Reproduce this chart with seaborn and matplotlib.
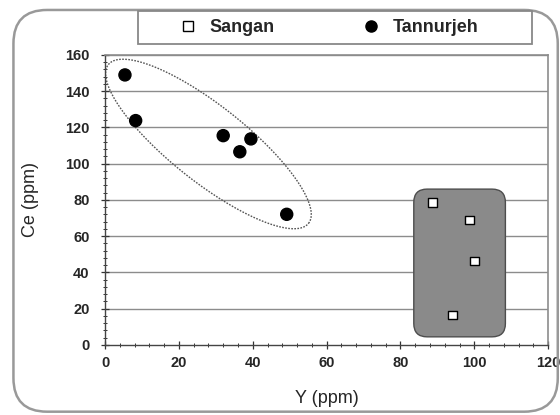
import numpy as np
import pandas as pd
import matplotlib
matplotlib.use("Agg")
import matplotlib.pyplot as plt
from matplotlib.patches import FancyBboxPatch, Rectangle
from matplotlib.ticker import MultipleLocator
from matplotlib.lines import Line2D
import seaborn as sns

# ---------------------------------------------------------------------------
# DATA
# ---------------------------------------------------------------------------
sangan_y = [88.7, 98.6, 100.0, 94.1]
sangan_ce = [78.5, 69.0, 46.3, 16.6]

tannurjeh_y = [5.4, 8.3, 32.0, 39.5, 36.5, 49.2]
tannurjeh_ce = [149.0, 123.8, 115.5, 113.7, 106.6, 72.1]

x_ticks = [0, 20, 40, 60, 80, 100, 120]
y_ticks = [0, 20, 40, 60, 80, 100, 120, 140, 160]

# Tannurjeh field (dashed ellipse): centre and two half-axis vectors
ell_center = (28.0, 110.9)
ell_major = (27.1, -43.8)
ell_minor = (6.4, 16.4)

# Sangan field (grey rounded box)
box_x = (83.6, 108.4)
box_y = (4.5, 86.0)

df = pd.DataFrame({
    "Y": sangan_y + tannurjeh_y,
    "Ce": sangan_ce + tannurjeh_ce,
    "group": ["Sangan"] * len(sangan_y) + ["Tannurjeh"] * len(tannurjeh_y),
})

# ---------------------------------------------------------------------------
# PLOT
# ---------------------------------------------------------------------------
sns.set_style("white")
plt.rcParams["font.family"] = ["Liberation Sans", "DejaVu Sans"]

fig = plt.figure(figsize=(5.6, 4.15), dpi=100)
ax = fig.add_axes([0.1875, 0.1687, 0.7915, 0.6988])

# outer rounded frame
fig.patches.append(FancyBboxPatch(
    (0.024, 0.008), 0.972, 0.968, transform=fig.transFigure,
    boxstyle="round,pad=0,rounding_size=0.06", mutation_aspect=560 / 415,
    facecolor="none", edgecolor="#999999", lw=1.8))

# horizontal grid
for yv in y_ticks[1:]:
    ax.axhline(yv, color="#8c8c8c", lw=1.0, zorder=0)

# Sangan field box
ax.add_patch(FancyBboxPatch(
    (box_x[0], box_y[0]), box_x[1] - box_x[0], box_y[1] - box_y[0],
    boxstyle="round,pad=0,rounding_size=3.6", mutation_aspect=3.7 / 1.8125,
    facecolor="#8a8a8a", edgecolor="#4d4d4d", lw=1.0, zorder=1))

# Tannurjeh field ellipse
t = np.linspace(0, 2 * np.pi, 300)
ex = ell_center[0] + ell_major[0] * np.cos(t) + ell_minor[0] * np.sin(t)
ey = ell_center[1] + ell_major[1] * np.cos(t) + ell_minor[1] * np.sin(t)
ax.plot(ex, ey, color="#555555", lw=1.0, ls=(0, (1.2, 1.0)), zorder=1)

sns.scatterplot(data=df, x="Y", y="Ce", hue="group", style="group",
                markers={"Sangan": "s", "Tannurjeh": "o"},
                palette={"Sangan": "white", "Tannurjeh": "black"},
                edgecolor="black", linewidth=1.0,
                size="group", sizes={"Sangan": 40, "Tannurjeh": 75},
                legend=False, ax=ax, zorder=3)

ax.set_xlim(0, 120)
ax.set_ylim(0, 160)
ax.set_xticks(x_ticks)
ax.set_yticks(y_ticks)
ax.xaxis.set_minor_locator(MultipleLocator(4))
ax.yaxis.set_minor_locator(MultipleLocator(4))
ax.tick_params(which="major", direction="inout", length=6, width=0.9,
               color="#333333", labelsize=10.5)
ax.tick_params(which="minor", direction="inout", length=3, width=0.7,
               color="#333333")
ax.tick_params(axis="y", which="major", pad=8)
ax.tick_params(axis="x", which="major", pad=5)
ax.tick_params(axis="both", which="both", left=True, bottom=True)
for lab in ax.get_xticklabels() + ax.get_yticklabels():
    lab.set_fontweight("bold")

for side in ["left", "bottom"]:
    ax.spines[side].set_color("#444444")
    ax.spines[side].set_linewidth(1.0)
for side in ["top", "right"]:
    ax.spines[side].set_color("#8c8c8c")
    ax.spines[side].set_linewidth(1.2)

ax.set_xlabel("Y (ppm)", fontsize=13, labelpad=14)
ax.set_ylabel("Ce (ppm)", fontsize=13, labelpad=19)

# legend box at top
fig.patches.append(Rectangle(
    (0.246, 0.894), 0.704, 0.0795, transform=fig.transFigure,
    facecolor="white", edgecolor="#888888", lw=1.3))
handles = [
    Line2D([], [], marker="s", ls="none", markerfacecolor="white",
           markeredgecolor="black", markersize=7, label="Sangan"),
    Line2D([], [], marker="o", ls="none", markerfacecolor="black",
           markeredgecolor="black", markersize=8, label="Tannurjeh"),
]
fig.legend(handles=handles, ncol=2, loc="center left",
           bbox_to_anchor=(0.32, 0.934), frameon=False,
           prop={"weight": "bold", "size": 13}, handlelength=1.0,
           handletextpad=0.7, columnspacing=4.8, borderpad=0,
           borderaxespad=0)

fig.savefig("out.png", dpi=100)
